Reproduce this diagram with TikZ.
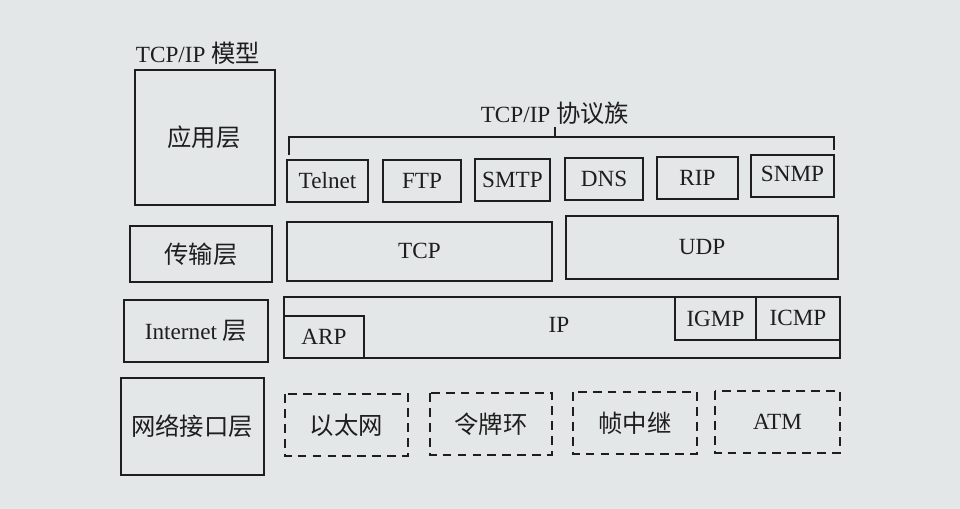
\documentclass[tikz,border=0pt]{standalone}
\usepackage{fontspec}
\setmainfont{Liberation Serif}
\newfontfamily\cjk[Scale=1.05]{Noto Sans CJK SC}

\definecolor{paper}{RGB}{228,231,231}
\definecolor{ink}{RGB}{30,30,30}

\begin{document}
\begin{tikzpicture}[x=0.02cm,y=-0.02cm,
    font=\fontsize{13.2}{15}\selectfont,
    line width=1.1pt, color=ink,
    lbl/.style={draw=none,inner sep=1pt},
    dashbox/.style={dash pattern=on 5pt off 3.5pt}]

  %page
  \fill[paper] (0,0) rectangle (960,509);
  \useasboundingbox (0,0) rectangle (960,509);

  %layout
  \node[lbl] (model) at (198,53) {TCP/IP {\cjk 模型}};

  %left column: layers
  \draw (135,70) rectangle (275,205);
  \draw (130,226) rectangle (272,282);
  \draw (124,300) rectangle (268,362);
  \draw (121,378) rectangle (264,475);

  \node[lbl] (app)  at (204,137) {\cjk 应用层};
  \node[lbl] (trans) at (201,254) {\cjk 传输层};
  \node[lbl] (inet) at (196,331) {Internet {\cjk 层}};
  \node[lbl] (link) at (192,426) {\cjk 网络接口层};

  %protocol suite bracket
  \node[lbl] (suite) at (555,113) {TCP/IP {\cjk 协议族}};
  \coordinate (bl) at (289,155);
  \coordinate (br) at (834,150);
  \coordinate (mid) at (suite.south |- 0,137);
  \draw (bl) |- (mid) -| (br);
  \draw (mid) -- (suite.south);

  %application protocols
  \draw (287,160) rectangle (368,202);
  \draw (383,160) rectangle (461,202);
  \draw (475,159) rectangle (550,201);
  \draw (565,158) rectangle (643,200);
  \draw (657,157) rectangle (738,199);
  \draw (751,155) rectangle (834,197);

  \node[lbl] (telnet) at (327.5,181) {Telnet};
  \node[lbl] (ftp)    at (422,181)   {FTP};
  \node[lbl] (smtp)   at (512.5,180) {SMTP};
  \node[lbl] (dns)    at (604,179)   {DNS};
  \node[lbl] (rip)    at (697.5,178) {RIP};
  \node[lbl] (snmp)   at (792.5,174) {SNMP};

  %transport protocols
  \draw (287,222) rectangle (552,281);
  \draw (566,216) rectangle (838,279);

  \node[lbl] (tcp) at (419.5,251) {TCP};
  \node[lbl] (udp) at (702,247)   {UDP};

  %internet protocols
  \draw (284,297) rectangle (840,358);
  \draw (284,316) rectangle (364,358);
  \draw (675,297) rectangle (756,340);
  \draw (756,297) rectangle (840,340);

  \node[lbl] (ip)   at (559,325) {IP};
  \node[lbl] (arp)  at (324,337) {ARP};
  \node[lbl] (igmp) at (715.5,319) {IGMP};
  \node[lbl] (icmp) at (798,318)   {ICMP};

  %network interfaces
  \draw[dashbox] (285,394) rectangle (408,456);
  \draw[dashbox] (430,393) rectangle (552,455);
  \draw[dashbox] (573,392) rectangle (697,454);
  \draw[dashbox] (715,391) rectangle (840,453);

  \node[lbl] (eth)  at (346.5,425) {\cjk 以太网};
  \node[lbl] (ring) at (491,424)   {\cjk 令牌环};
  \node[lbl] (fr)   at (635,423)   {\cjk 帧中继};
  \node[lbl] (atm)  at (777.5,422) {ATM};

\end{tikzpicture}
\end{document}
